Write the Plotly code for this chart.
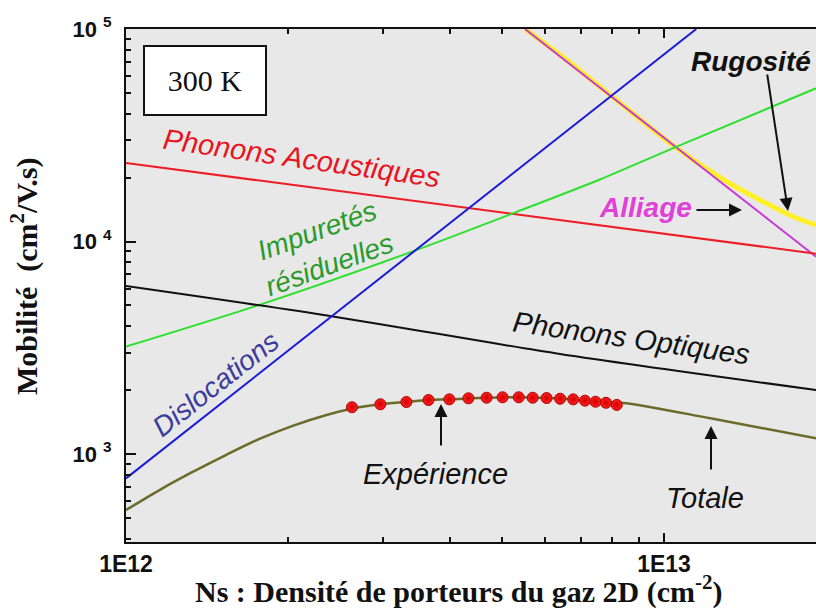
import plotly.graph_objects as go

# ---------------- data ----------------
exp_ns = [2.63e12, 2.97e12, 3.32e12, 3.65e12, 3.99e12, 4.33e12, 4.68e12, 5.01e12,
          5.37e12, 5.70e12, 6.05e12, 6.41e12, 6.78e12, 7.13e12, 7.46e12, 7.80e12, 8.17e12]
exp_mu = [1660, 1714, 1757, 1795, 1808, 1828, 1840, 1849,
          1849, 1840, 1834, 1820, 1808, 1782, 1762, 1742, 1702]

tot_ns = [1.0e12, 1.15e12, 1.33e12, 1.54e12, 1.77e12, 2.04e12, 2.35e12, 2.64e12, 2.97e12,
          3.32e12, 3.65e12, 3.99e12, 4.68e12, 5.37e12, 6.05e12, 6.78e12, 7.46e12, 8.52e12,
          1.22e13, 1.917e13]
tot_mu = [545, 673, 823, 994, 1177, 1357, 1523, 1637, 1714,
          1757, 1795, 1808, 1840, 1849, 1834, 1808, 1762, 1733,
          1472, 1185]

ac_ns = [1.0e12, 1.917e13]
ac_mu = [23400, 8760]

op_ns = [1.0e12, 2.44e12, 6.41e12, 1.917e13]
op_mu = [6170, 4430, 2955, 2000]

imp_ns = [1.0e12, 1.77e12, 3.36e12, 5.54e12, 7.60e12, 1.056e13, 1.917e13]
imp_mu = [3200, 5030, 8860, 14330, 19580, 27940, 52600]

dis_ns = [1.0e12, 1.148e13]
dis_mu = [768, 1.0e5]

all_ns = [5.515e12, 1.917e13]
all_mu = [1.0e5, 8480]

rug_ns = [5.515e12, 6.41e12, 7.94e12, 1.056e13, 1.308e13, 1.508e13, 1.739e13, 1.917e13]
rug_mu = [1.0e5, 75460, 48920, 27460, 19120, 15680, 13080, 11960]

x_tickvals = [1e12, 1e13]
x_ticktext = ["<b>1E12</b>", "<b>1E13</b>"]
y_tickvals = [1e3, 1e4, 1e5]
y_ticktext = ["<b>10 <sup>3</sup></b>", "<b>10 <sup>4</sup></b>", "<b>10 <sup>5</sup></b>"]

# ---------------- layout geometry ----------------
W, H = 816, 608
L, R, T, B = 126, 0, 29, 66
PW, PH = W - L - R, H - T - B


def pp(x, y):
    return dict(xref="paper", yref="paper", x=(x - L) / PW, y=(H - B - y) / PH)


SANS = "Liberation Sans, Arial, sans-serif"
SERIF = "Liberation Serif, Times New Roman, serif"

fig = go.Figure()
fig.add_trace(go.Scatter(x=rug_ns, y=rug_mu, mode="lines",
                         line=dict(color="#fff02a", width=5, shape="spline", smoothing=0.8)))
fig.add_trace(go.Scatter(x=all_ns, y=all_mu, mode="lines", line=dict(color="#c838d8", width=2)))
fig.add_trace(go.Scatter(x=ac_ns, y=ac_mu, mode="lines", line=dict(color="#ee1c24", width=2)))
fig.add_trace(go.Scatter(x=imp_ns, y=imp_mu, mode="lines",
                         line=dict(color="#2ee02e", width=2, shape="spline", smoothing=0.8)))
fig.add_trace(go.Scatter(x=op_ns, y=op_mu, mode="lines",
                         line=dict(color="#111111", width=2, shape="spline", smoothing=0.8)))
fig.add_trace(go.Scatter(x=dis_ns, y=dis_mu, mode="lines", line=dict(color="#1c1cd8", width=2)))
fig.add_trace(go.Scatter(x=tot_ns, y=tot_mu, mode="lines",
                         line=dict(color="#6b6b2b", width=2.5, shape="spline", smoothing=0.8)))
fig.add_trace(go.Scatter(
    x=exp_ns, y=exp_mu, mode="markers",
    marker=dict(size=11, color="#ff2020", line=dict(color="#b00000", width=1),
                gradient=dict(type="radial", color="#d00000")),
))
# empty trace that carries the mirrored top axis (ticks only)
fig.add_trace(go.Scatter(x=[], y=[], xaxis="x2", yaxis="y", hoverinfo="skip"))

ann = []


def label(text, x, y, color, size=28, angle=0, bold=False, family=SANS):
    t = f"<i>{text}</i>"
    if bold:
        t = f"<b>{t}</b>"
    d = pp(x, y)
    d.update(text=t, showarrow=False, textangle=angle, xanchor="center", yanchor="middle",
             font=dict(family=family, size=size, color=color))
    ann.append(d)


def arrow(tx, ty, fx, fy):
    d = pp(tx, ty)
    d.update(text="", showarrow=True, axref="pixel", ayref="pixel", ax=fx - tx, ay=fy - ty,
             arrowhead=2, arrowsize=1.3, arrowwidth=2, arrowcolor="#111111", standoff=0)
    ann.append(d)


label("Phonons Acoustiques", 301, 158, "#e8141e", size=29, angle=8)
label("Impuretés<br>résiduelles", 323, 247, "#2a9a2a", size=28, angle=-20)
label("Dislocations", 215, 384, "#3c3c9c", size=28, angle=-38)
label("Phonons Optiques", 631, 338, "#111111", size=29, angle=8)
label("Alliage", 645, 207, "#e040d8", size=28, bold=True)
label("Rugosité", 751, 61, "#111111", size=28, bold=True)
label("Expérience", 435, 474, "#111111", size=29)
label("Totale", 705, 498, "#111111", size=29)

arrow(742, 210, 695, 210)
arrow(788, 211, 767, 73)
arrow(441, 404, 441, 447)
arrow(711, 426, 711, 471)

box = pp(205, 80.5)
box.update(text="300 K", showarrow=False, xanchor="center", yanchor="middle",
           width=120, height=67, bgcolor="white", bordercolor="#111111", borderwidth=2, borderpad=0,
           font=dict(family=SERIF, size=30, color="#111111"))
ann.append(box)

yt = pp(24, 277)
yt.update(text="<b>Mobilité&nbsp; (cm<sup>2</sup>/V.s)</b>", showarrow=False, textangle=-90,
          xanchor="center", yanchor="middle", font=dict(family=SERIF, size=30, color="#111111"))
ann.append(yt)
xt = pp(458, 589)
xt.update(text="<b>Ns : Densité de porteurs du gaz 2D (cm<sup>-2</sup>)</b>", showarrow=False,
          xanchor="center", yanchor="middle", font=dict(family=SERIF, size=30, color="#111111"))
ann.append(xt)

x_minor = [k * 1e12 for k in range(2, 10)] + [2e13]
y_minor = [k * 10 ** e for e in (2, 3, 4) for k in range(2, 10)]

xrange_log = [12.0, 13.2825]
fig.update_layout(
    width=W, height=H,
    margin=dict(l=L, r=R, t=T, b=B, pad=0),
    paper_bgcolor="white", plot_bgcolor="#e8e8e8",
    showlegend=False,
    annotations=ann,
    xaxis=dict(type="log", range=xrange_log, showgrid=False, zeroline=False,
               showline=True, linecolor="#111111", linewidth=2, mirror=False,
               ticks="inside", ticklen=9, tickwidth=1.5, tickcolor="#111111",
               tickvals=x_tickvals, ticktext=x_ticktext, ticklabelstandoff=0,
               tickfont=dict(family=SANS, size=23, color="#111111"),
               minor=dict(ticks="inside", ticklen=5, tickwidth=1.5, tickcolor="#111111",
                          tickvals=x_minor, showgrid=False)),
    xaxis2=dict(type="log", range=xrange_log, overlaying="x", side="top", anchor="y",
                showgrid=False, zeroline=False, showticklabels=False,
                showline=True, linecolor="#111111", linewidth=2,
                ticks="inside", ticklen=9, tickwidth=1.5, tickcolor="#111111",
                tickvals=x_tickvals,
                minor=dict(ticks="inside", ticklen=5, tickwidth=1.5, tickcolor="#111111",
                           tickvals=x_minor, showgrid=False)),
    yaxis=dict(type="log", range=[2.5859, 5.0], showgrid=False, zeroline=False,
               showline=True, linecolor="#111111", linewidth=2, mirror=False,
               ticks="inside", ticklen=10, tickwidth=1.5, tickcolor="#111111",
               tickvals=y_tickvals, ticktext=y_ticktext, ticklabelstandoff=8,
               tickfont=dict(family=SANS, size=22, color="#111111"),
               minor=dict(ticks="inside", ticklen=5, tickwidth=1.5, tickcolor="#111111",
                          tickvals=y_minor, showgrid=False)),
)

fig.write_html("out.html", config={"displayModeBar": False},
               post_script="document.body.style.margin='0px';document.body.style.padding='0px';")
